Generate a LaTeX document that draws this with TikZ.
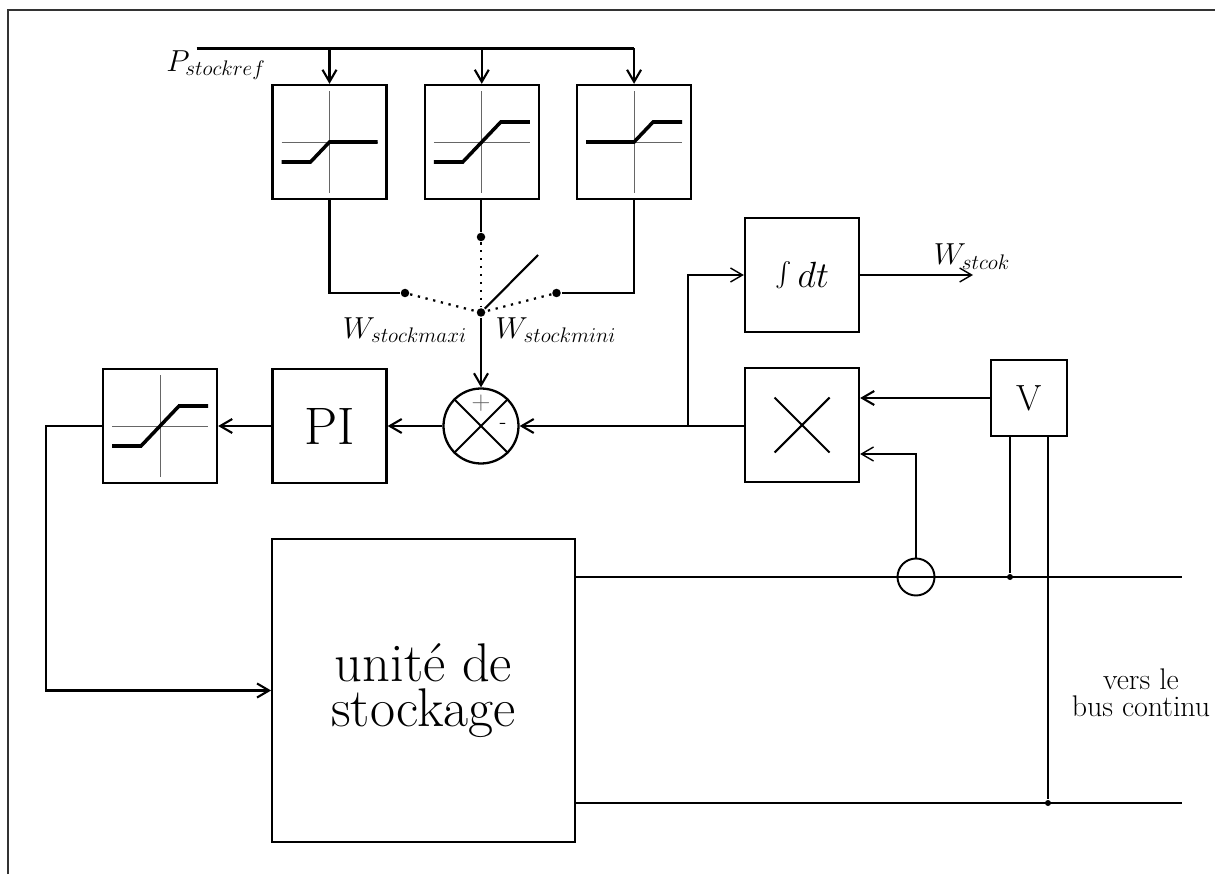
\documentclass[tikz,border=0pt]{standalone}
\usetikzlibrary{arrows.meta,calc,positioning}
\begin{document}
\begin{tikzpicture}[node distance=0.72cm, >={Straight Barb[length=2.4mm,width=2.8mm]}, line width=1.2pt]
    \tikzstyle{blk}=[draw, line width=1.3pt, inner sep=0pt, minimum width=2.28cm, minimum height=2.28cm, align=center]
    \tikzstyle{dot}=[circle, fill, inner sep=0pt, minimum size=1.7mm]
    \tikzstyle{smalldot}=[circle, fill, inner sep=0pt, minimum size=1.2mm]
    \tikzstyle{thinaxis}=[line width=0.5pt, black!60]
    \tikzstyle{curve}=[line width=2pt]
    \tikzstyle{thinline}=[line width=0.8pt]
    \tikzstyle{dotline}=[dash pattern=on 1.3pt off 3.2pt, line width=1.3pt]
    \tikzstyle{vlabel}=[font=\LARGE]
    \useasboundingbox (0,0) rectangle (24.3,17.48);
    \draw[line width=0.8pt, black!80] (0.16,0) -- (0.16,17.28) -- (24.3,17.28);
    % saturations
    \node[blk] (satmax) at (6.59,14.64) {};
    \node[blk, right=of satmax] (satmid) {};
    \node[blk, right=of satmid] (satmin) {};
    \node[blk] (integ) at (16.04,11.98) {\huge \scalebox{1.4}{$\int$}$\,dt$};
    \node[blk] (mult) at (16.04,8.98) {};
    \node[blk, line width=1pt, minimum width=1.52cm, minimum height=1.52cm] (volt) at (20.58,9.52) {\huge V};
    \node[blk] (pi) at (6.59,8.96) {\fontsize{30}{30}\selectfont PI};
    \node[blk] (satout) at (3.2,8.96) {};
    \node[circle, draw, line width=1.3pt, inner sep=0pt, minimum size=1.5cm] (sum) at (9.62,8.96) {};
    \node[blk, line width=1pt, minimum width=6.06cm, minimum height=6.06cm, font=\fontsize{31}{26}\selectfont] (unit) at (8.47,3.67) {unit\'e de\\stockage};
    \node[circle, draw, line width=1.1pt, inner sep=0pt, minimum size=0.74cm] (cur) at (18.32,5.94) {};
    % commutateur
    \node[dot] (sw) at (9.62,11.23) {};
    \node[dot] (swmax) at (8.1,11.62) {};
    \node[dot] (swmid) at (9.62,12.74) {};
    \node[dot] (swmin) at (11.13,11.62) {};
    \coordinate (swend) at (10.76,12.38);
    % textes
    \node[vlabel] (pref) at (4.32,16.18) {$P_{stockref}$};
    \node[vlabel] (wmax) at (8.1,10.88) {$W_{stockmaxi}$};
    \node[vlabel] (wmin) at (11.12,10.88) {$W_{stockmini}$};
    \node[vlabel] (wst) at (19.44,12.35) {$W_{stcok}$};
    \node[align=center, font=\fontsize{17}{15.3}\selectfont] (bus) at (22.82,3.62) {vers le\\bus continu};
    \node[font=\Large, black!60] (plus) at ($(sum)+(0,0.46)$) {$+$};
    \node[font=\large] (minus) at ($(sum)+(0.44,0)$) {-};
    % croix
    \draw (sum.45) -- (sum.225);
    \draw (sum.135) -- (sum.315);
    \draw ($(mult)+(-0.55,-0.55)$) -- ($(mult)+(0.55,0.55)$);
    \draw ($(mult)+(-0.55,0.55)$) -- ($(mult)+(0.55,-0.55)$);
    % axes et caracteristiques
    \foreach \b in {satmax,satmid,satmin,satout}{
        \draw[thinaxis] ($(\b)+(-0.96,0)$) -- ($(\b)+(0.96,0)$);
        \draw[thinaxis] ($(\b)+(0,-1.02)$) -- ($(\b)+(0,1.02)$);
    }
    \draw[curve] ($(satmax)+(-0.96,-0.4)$) -- ($(satmax)+(-0.38,-0.4)$) -- (satmax.center) -- ($(satmax)+(0.96,0)$);
    \draw[curve] ($(satmid)+(-0.96,-0.4)$) -- ($(satmid)+(-0.38,-0.4)$) -- ($(satmid)+(0.38,0.4)$) -- ($(satmid)+(0.96,0.4)$);
    \draw[curve] ($(satmin)+(-0.96,0)$) -- (satmin.center) -- ($(satmin)+(0.38,0.4)$) -- ($(satmin)+(0.96,0.4)$);
    \draw[curve] ($(satout)+(-0.96,-0.4)$) -- ($(satout)+(-0.38,-0.4)$) -- ($(satout)+(0.38,0.4)$) -- ($(satout)+(0.96,0.4)$);
    % liaisons
    \coordinate (prefstart) at (3.93,16.51);
    \draw (prefstart) -- (satmin |- prefstart);
    \foreach \b in {satmax,satmid,satmin}{
        \draw[->] (\b |- prefstart) -- (\b.north);
    }
    \draw (satmax.south) |- (swmax);
    \draw (swmid |- satmid.south) -- (swmid);
    \draw (satmin.south) |- (swmin);
    \draw[dotline] (swmax) -- (sw);
    \draw[dotline] (swmid) -- (sw);
    \draw[dotline] (swmin) -- (sw);
    \draw (sw) -- (swend);
    \draw[->] (sw) -- (sum);
    \coordinate (junc) at (13.76,8.96);
    \draw[->] (mult.west |- junc) -- (sum.east |- junc);
    \draw[->] (sum) -- (pi);
    \draw[->] (pi) -- (satout);
    \draw[->, thinline] (junc) |- (integ);
    \coordinate (wend) at (19.46,11.98);
    \draw[->, thinline] (integ) -- (wend);
    \coordinate (fbk) at (0.92,8.96);
    \draw[->] (satout) -- (fbk) |- (unit);
    % mesures
    \draw[->] (volt) -- (mult.east |- volt);
    \draw[->, thinline] (cur) |- (mult.east |- 0,8.4);
    \coordinate (busa) at (23.63,5.94);
    \coordinate (busb) at (23.63,1.42);
    \draw (unit.east |- busa) -- (busa);
    \draw (unit.east |- busb) -- (busb);
    \node[smalldot] (tapa) at (20.2,5.94) {};
    \node[smalldot] (tapb) at (20.96,1.42) {};
    \draw[line width=1.4pt] (volt.south -| tapa) -- (tapa);
    \draw[line width=1.4pt] (volt.south -| tapb) -- (tapb);
\end{tikzpicture}
\end{document}
